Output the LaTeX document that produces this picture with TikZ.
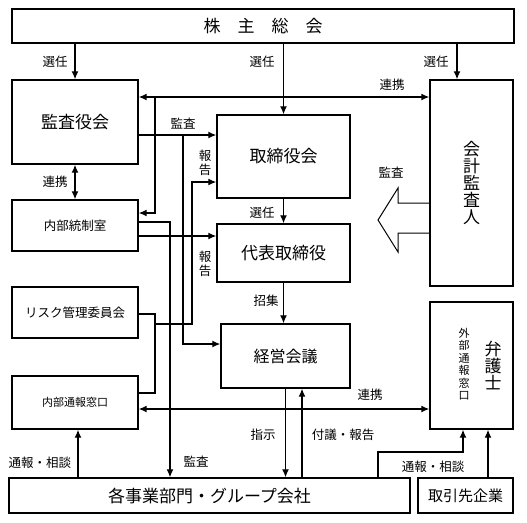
\documentclass[tikz,border=0pt]{standalone}
\usepackage{fontspec}
\usepackage{tikz}
\usetikzlibrary{arrows.meta, positioning}
\newfontfamily\jpfont{Noto Sans CJK JP}

\begin{document}
\begin{tikzpicture}[x=1pt, y=-1pt,
        box/.style={draw, line width=1.4pt, inner sep=0pt, align=center,
            font=\jpfont\fontsize{17}{17}\selectfont},
        smallbox/.style={box, font=\jpfont\fontsize{12.5}{12.5}\selectfont},
        lbl/.style={inner sep=0pt, align=center, font=\jpfont\fontsize{12.5}{14}\selectfont},
        conn/.style={line width=1.3pt},
        arr/.style={conn, -{Latex[length=8pt, width=7pt]}},
        darr/.style={conn, {Latex[length=8pt, width=7pt]}-{Latex[length=8pt, width=7pt]}}]
    \useasboundingbox (0,0) rectangle (527,522);

    % boxes
    \node[box, minimum width=502pt, minimum height=34pt] (soukai) at (263,26) {株\quad 主\quad 総\quad 会};
    \node[box, minimum width=126pt, minimum height=84pt] (kansa) at (75,122) {監査役会};
    \node[box, minimum width=133pt, minimum height=83pt] (torishimari) at (283.5,156.5) {取締役会};
    \node[box, minimum width=83pt, minimum height=206pt] (kaikei) at (471.5,183) {会\\計\\監\\査\\人};
    \node[smallbox, minimum width=126pt, minimum height=51pt] (naibu) at (75,225.5) {内部統制室};
    \node[box, minimum width=133pt, minimum height=58pt] (daihyo) at (283.5,253) {代表取締役};
    \node[smallbox, minimum width=126pt, minimum height=51pt] (risk) at (75,312.5) {リスク管理委員会};
    \node[box, minimum width=129pt, minimum height=64pt, font=\jpfont\fontsize{16}{16}\selectfont] (keiei) at (285.5,356) {経営会議};
    \node[box, minimum width=83pt, minimum height=127pt] (bengo) at (471.5,365.5) {};
    \node[lbl, font=\jpfont\fontsize{17}{17}\selectfont] (bengoshi) at (493,366) {弁\\護\\士};
    \node[lbl, font=\jpfont\fontsize{11}{12.5}\selectfont] (gaibu) at (464,364) {外\\部\\通\\報\\窓\\口};
    \node[smallbox, minimum width=126pt, minimum height=53pt, font=\jpfont\fontsize{11}{11}\selectfont] (tsuho) at (75,402.5) {内部通報窓口};
    \node[box, minimum width=401pt, minimum height=35pt] (jigyo) at (209.5,495.5) {各事業部門・グループ会社};
    \node[box, minimum width=95pt, minimum height=35pt, font=\jpfont\fontsize{15}{15}\selectfont] (torihiki) at (465.5,495.5) {取引先企業};

    % bend points
    \coordinate (senninR) at (457,60);
    \coordinate (renkeiT) at (155,97);
    \coordinate (naibuIn) at (155,213);
    \coordinate (kansaB) at (183,135);
    \coordinate (kansaC) at (183,344);
    \coordinate (toseiA) at (170,222);
    \coordinate (toseiB) at (170,236);
    \coordinate (riskA) at (155,314);
    \coordinate (tsuhoA) at (155,393);
    \coordinate (houA) at (155,324);
    \coordinate (houB) at (192,182);
    \coordinate (fugi) at (302,430);
    \coordinate (renkeiB) at (300,409);
    \coordinate (tsuL) at (78,450);
    \coordinate (tsuR1) at (378,452);
    \coordinate (tsuR2) at (463,452);
    \coordinate (torihikiA) at (488,450);

    % connectors
    \draw[arr] (kansa.north |- soukai.south) -- (kansa.north);
    \draw[arr] (torishimari.north |- soukai.south) -- (torishimari.north);
    \draw[arr] (senninR |- soukai.south) -- (senninR |- kaikei.north);
    \draw[darr] (kansa.east |- renkeiT) -- (kaikei.west |- renkeiT);
    \draw[arr] (renkeiT) -- (naibuIn) -- (naibu.east |- naibuIn);
    \draw[arr] (kansa.east |- kansaB) -- (torishimari.west |- kansaB);
    \draw[arr] (kansaB) -- (kansaC) -- (keiei.west |- kansaC);
    \draw[darr] (kansa.south) -- (kansa.south |- naibu.north);
    \draw[arr] (naibu.east |- toseiA) -- (toseiA) -- (toseiA |- jigyo.north);
    \draw[arr] (naibu.east |- toseiB) -- (daihyo.west |- toseiB);
    \draw[conn] (risk.east |- riskA) -- (riskA) -- (tsuhoA) -- (tsuho.east |- tsuhoA);
    \draw[arr] (houA) -| (houB) -- (torishimari.west |- houB);
    \draw[arr] (torishimari.south) -- (daihyo.north);
    \draw[arr] (daihyo.south) -- (daihyo.south |- keiei.north);
    \draw[arr] (keiei.south) -- (keiei.south |- jigyo.north);
    \draw[arr] (fugi |- jigyo.north) -- (fugi |- keiei.south);
    \draw[darr] (tsuho.east |- renkeiB) -- (bengo.west |- renkeiB);
    \draw[arr] (tsuL |- jigyo.north) -- (tsuL |- tsuho.south);
    \draw[arr] (tsuR1 |- jigyo.north) -- (tsuR1) -- (tsuR2) -- (tsuR2 |- bengo.south);
    \draw[arr] (torihikiA |- torihiki.north) -- (torihikiA |- bengo.south);

    % hollow arrow from the auditor
    \draw[line width=1pt] (430,203) -- (398,203) -- (398,188) -- (378,220)
        -- (398,252) -- (398,233) -- (430,233);

    % labels
    \node[lbl] (l1) at (55,62) {選任};
    \node[lbl] (l2) at (262,62) {選任};
    \node[lbl] (l3) at (436,62) {選任};
    \node[lbl] (l4) at (392,85) {連携};
    \node[lbl] (l5) at (183,124) {監査};
    \node[lbl] (l6) at (205,163) {報\\告};
    \node[lbl] (l7) at (55,182) {連携};
    \node[lbl] (l8) at (391,173) {監査};
    \node[lbl] (l9) at (262,213) {選任};
    \node[lbl] (l10) at (205,264) {報\\告};
    \node[lbl] (l11) at (266,301) {招集};
    \node[lbl] (l12) at (370,395) {連携};
    \node[lbl] (l13) at (263,435) {指示};
    \node[lbl] (l14) at (343,435) {付議・報告};
    \node[lbl] (l15) at (40,463) {通報・相談};
    \node[lbl] (l16) at (196,462) {監査};
    \node[lbl] (l17) at (433,467) {通報・相談};
\end{tikzpicture}
\end{document}
